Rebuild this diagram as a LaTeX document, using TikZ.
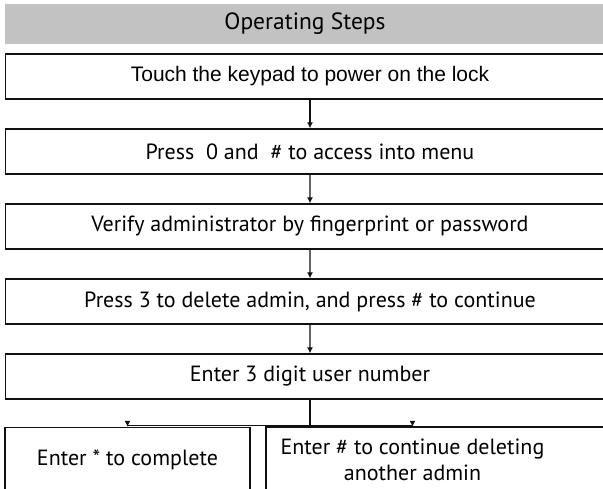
\documentclass[tikz,border=0pt]{standalone}
\usepackage{fontspec}
\setmainfont{PT Sans}
\newfontfamily\arialfont{Liberation Sans}
\usetikzlibrary{arrows.meta}
\definecolor{headgray}{HTML}{C2C2C2}
\definecolor{linegray}{HTML}{111111}

\begin{document}
\begin{tikzpicture}[x=1pt, y=1pt,
  level distance=75pt,
  level 5/.style = {sibling distance=285pt, level distance=83pt,
    edge from parent path={(\tikzparentnode.south) -- ++(0,-26pt)
      -| (\tikzchildnode.north)}},
  edge from parent/.style = {draw=linegray, line width=1.3pt,
    -{Latex[length=6pt,width=6pt]}},
  every node/.style = {shape=rectangle,
    draw=linegray, line width=1.3pt, align=center,
    minimum width=609pt, minimum height=45pt,
    font=\fontsize{22}{26}\selectfont}]
  \useasboundingbox (0,0) rectangle (603,-488);
  \clip (0,0) rectangle (603,-488);
  \node (title) [draw=none, fill=headgray, minimum width=600pt,
    minimum height=40pt, font=\fontsize{23.5}{28}\selectfont]
    at (305,-23.5) {Operating Steps};
  \node (power) [font=\fontsize{21}{26}\selectfont] at (310,-76.5)
    {\arialfont Touch the keypad to power on the lock}
    child { node (menu) {Press\ \ 0 and\ \ \# to access into menu}
      child { node (verify) {Verify administrator by fingerprint or password}
        child { node (deladmin) {Press 3 to delete admin, and press \# to continue}
          child { node (usernum) {Enter 3 digit user number}
            child { node (complete) [xshift=-40pt, minimum width=245pt,
              minimum height=64pt] {Enter * to complete} }
            child { node (another) [xshift=-40pt, minimum width=292pt,
              minimum height=64pt, draw=none] {Enter \# to continue deleting\\another admin} } } } } };
  \draw[linegray, line width=1.3pt] (another.north west)
    rectangle ([xshift=60pt]another.south east);
\end{tikzpicture}
\end{document}
